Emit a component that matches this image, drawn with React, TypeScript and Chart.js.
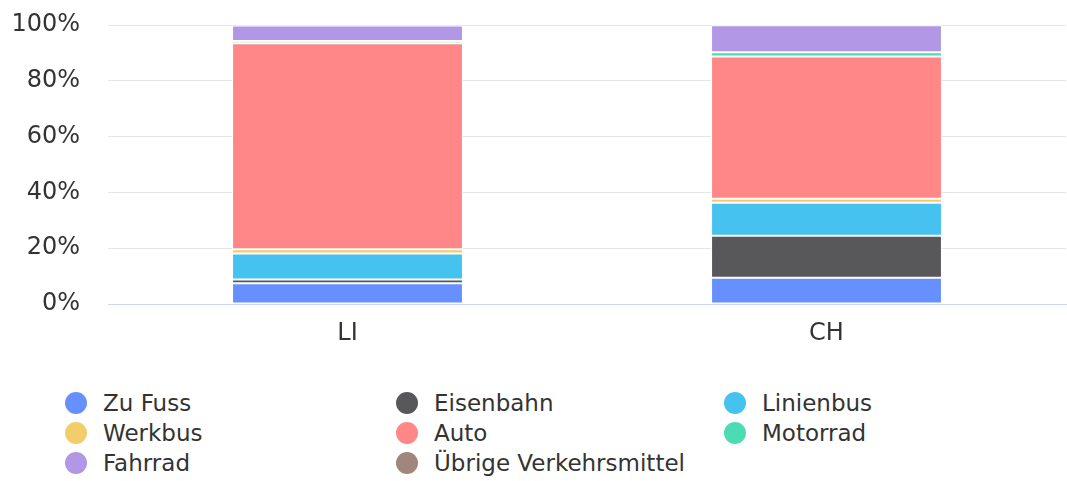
import React, { useEffect, useRef } from "react";
import { Chart, registerables } from "chart.js";

Chart.register(...registerables);

const categories = ["LI", "CH"];
const seriesNames = [
  "Zu Fuss",
  "Eisenbahn",
  "Linienbus",
  "Werkbus",
  "Auto",
  "Motorrad",
  "Fahrrad",
  "Übrige Verkehrsmittel",
];
const zuFuss = [7.4, 9.4];
const eisenbahn = [1.4, 15.1];
const linienbus = [9.3, 11.8];
const werkbus = [1.5, 1.4];
const auto = [73.9, 51.0];
const motorrad = [0.8, 1.5];
const fahrrad = [5.5, 9.7];
const uebrige = [0.1, 0.1];
const seriesColors = [
  "#6690ff",
  "#58585a",
  "#45c2ef",
  "#f4cd6b",
  "#ff8787",
  "#4ddbb4",
  "#b197e5",
  "#a0867d",
];
const yTicks = [0, 20, 40, 60, 80, 100];

const FONT = "'DejaVu Sans', sans-serif";

const legendCols = [65, 396, 724];
const legendRows = [392, 422, 452];

export default function App() {
  const ref = useRef<HTMLCanvasElement | null>(null);

  useEffect(() => {
    const values = [zuFuss, eisenbahn, linienbus, werkbus, auto, motorrad, fahrrad, uebrige];
    const chart = new Chart(ref.current as HTMLCanvasElement, {
      type: "bar",
      data: {
        labels: categories,
        datasets: seriesNames.map((name, i) => ({
          label: name,
          data: values[i],
          backgroundColor: seriesColors[i],
          borderColor: "#ffffff",
          borderWidth: 1,
          borderSkipped: false,
          barPercentage: 1,
          categoryPercentage: 0.482,
        })),
      },
      options: {
        responsive: false,
        animation: false,
        layout: { padding: { top: 25, right: 1, left: 0, bottom: 0 } },
        plugins: { legend: { display: false }, tooltip: { enabled: false } },
        scales: {
          x: {
            stacked: true,
            grid: { display: false, drawTicks: false },
            border: { color: "#ccd6eb", width: 1 },
            ticks: { font: { family: FONT, size: 24 }, color: "#333333", padding: 15 },
            afterFit: (s: any) => {
              s.height = 66;
              s.paddingLeft = 0;
              s.paddingRight = 0;
            },
          },
          y: {
            stacked: true,
            min: 0,
            max: 100,
            afterBuildTicks: (s: any) => {
              s.ticks = yTicks.map((v) => ({ value: v }));
            },
            grid: {
              color: (ctx: any) => (ctx.tick && ctx.tick.value === 0 ? "#ccd6eb" : "#e6e6e6"),
              drawTicks: false,
            },
            border: { display: false },
            ticks: {
              font: { family: FONT, size: 24 },
              color: "#333333",
              padding: 28,
              callback: (v: any) => v + "%",
            },
            afterFit: (s: any) => {
              s.width = 108;
              s.paddingTop = 0;
              s.paddingBottom = 0;
            },
          },
        },
      },
    });
    return () => chart.destroy();
  }, []);

  return (
    <div style={{ position: "absolute", left: 0, top: 0, width: 1067, height: 481, background: "#fff" }}>
      <canvas ref={ref} width={1067} height={370} style={{ position: "absolute", left: 0, top: 0 }} />
      {seriesNames.map((name, i) => (
        <div
          key={name}
          style={{
            position: "absolute",
            left: legendCols[i % 3],
            top: legendRows[Math.floor(i / 3)],
            height: 22,
            display: "flex",
            alignItems: "center",
            whiteSpace: "nowrap",
            fontFamily: FONT,
            fontSize: 23,
            color: "#333333",
          }}
        >
          <span
            style={{
              display: "inline-block",
              width: 22,
              height: 22,
              borderRadius: "50%",
              background: seriesColors[i],
              marginRight: 16,
            }}
          />
          <span>{name}</span>
        </div>
      ))}
    </div>
  );
}
